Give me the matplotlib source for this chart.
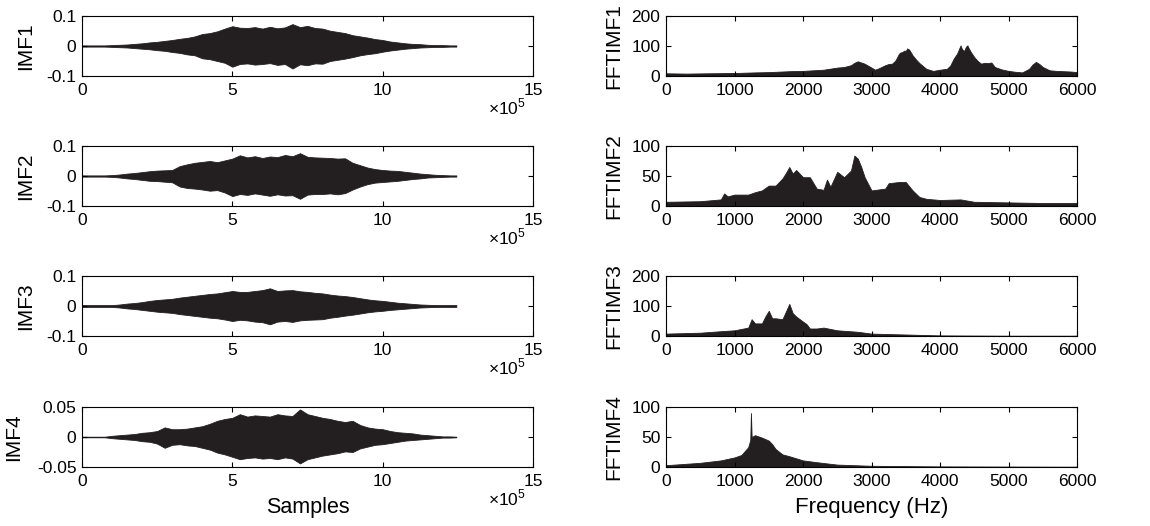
import matplotlib
matplotlib.use("Agg")
import matplotlib.pyplot as plt

plt.rcParams["font.family"] = ["Liberation Sans", "DejaVu Sans"]
plt.rcParams["mathtext.fontset"] = "custom"
plt.rcParams["mathtext.rm"] = "Liberation Sans"

# sample positions (x 10^5) where the IMF envelopes are taken
samples = [0.0, 0.25, 0.5, 0.75, 1.0, 1.25, 1.5, 1.75, 2.0, 2.25, 2.5, 2.75,
           3.0, 3.25, 3.5, 3.75, 4.0, 4.25, 4.5, 4.75, 5.0, 5.25, 5.5, 5.75,
           6.0, 6.25, 6.5, 6.75, 7.0, 7.25, 7.5, 7.75, 8.0, 8.25, 8.5, 8.75,
           9.0, 9.25, 9.5, 9.75, 10.0, 10.25, 10.5, 10.75, 11.0, 11.25, 11.5,
           11.75, 12.0, 12.25, 12.45]

imf1_hi = [0.002, 0.002, 0.002, 0.002, 0.003, 0.004, 0.005, 0.007, 0.009, 0.012,
           0.014, 0.017, 0.020, 0.024, 0.027, 0.032, 0.040, 0.043, 0.049, 0.058,
           0.066, 0.061, 0.060, 0.063, 0.058, 0.064, 0.059, 0.062, 0.073, 0.063,
           0.067, 0.060, 0.058, 0.051, 0.047, 0.043, 0.036, 0.032, 0.028, 0.023,
           0.020, 0.015, 0.012, 0.009, 0.007, 0.006, 0.004, 0.003, 0.003, 0.002, 0.002]
imf1_lo = [-0.002, -0.002, -0.002, -0.002, -0.003, -0.004, -0.005, -0.007, -0.009, -0.011,
           -0.014, -0.016, -0.020, -0.023, -0.028, -0.031, -0.041, -0.044, -0.050, -0.056,
           -0.069, -0.060, -0.058, -0.062, -0.060, -0.057, -0.063, -0.060, -0.075, -0.061,
           -0.064, -0.058, -0.059, -0.050, -0.046, -0.042, -0.037, -0.031, -0.027, -0.024,
           -0.019, -0.015, -0.012, -0.009, -0.007, -0.005, -0.004, -0.003, -0.003, -0.002, -0.002]

imf2_hi = [0.002, 0.002, 0.002, 0.002, 0.003, 0.005, 0.008, 0.010, 0.013, 0.016,
           0.018, 0.019, 0.020, 0.033, 0.039, 0.044, 0.047, 0.050, 0.046, 0.052,
           0.058, 0.069, 0.062, 0.066, 0.060, 0.065, 0.063, 0.070, 0.066, 0.076,
           0.064, 0.062, 0.061, 0.060, 0.058, 0.059, 0.044, 0.036, 0.028, 0.023,
           0.020, 0.018, 0.017, 0.014, 0.011, 0.008, 0.006, 0.004, 0.003, 0.002, 0.002]
imf2_lo = [-0.002, -0.002, -0.002, -0.002, -0.003, -0.005, -0.008, -0.010, -0.013, -0.016,
           -0.017, -0.019, -0.021, -0.035, -0.040, -0.042, -0.045, -0.049, -0.047, -0.055,
           -0.067, -0.060, -0.063, -0.058, -0.062, -0.066, -0.061, -0.065, -0.064, -0.076,
           -0.062, -0.060, -0.060, -0.058, -0.061, -0.057, -0.045, -0.035, -0.027, -0.022,
           -0.020, -0.018, -0.016, -0.013, -0.010, -0.008, -0.005, -0.004, -0.003, -0.002, -0.002]

imf3_hi = [0.003, 0.003, 0.003, 0.003, 0.003, 0.005, 0.008, 0.010, 0.013, 0.017,
           0.020, 0.022, 0.024, 0.028, 0.031, 0.034, 0.037, 0.040, 0.042, 0.046,
           0.050, 0.047, 0.047, 0.050, 0.053, 0.059, 0.050, 0.052, 0.053, 0.049,
           0.047, 0.044, 0.042, 0.038, 0.035, 0.033, 0.030, 0.026, 0.022, 0.019,
           0.017, 0.014, 0.011, 0.009, 0.007, 0.005, 0.004, 0.003, 0.003, 0.003, 0.003]
imf3_lo = [-0.003, -0.003, -0.003, -0.003, -0.003, -0.005, -0.008, -0.010, -0.013, -0.016,
           -0.019, -0.021, -0.023, -0.027, -0.030, -0.033, -0.036, -0.039, -0.041, -0.045,
           -0.050, -0.046, -0.048, -0.052, -0.054, -0.061, -0.052, -0.050, -0.053, -0.048,
           -0.046, -0.045, -0.044, -0.039, -0.036, -0.032, -0.029, -0.025, -0.021, -0.018,
           -0.016, -0.013, -0.011, -0.009, -0.007, -0.005, -0.004, -0.003, -0.003, -0.003, -0.003]

imf4_hi = [0.0005, 0.0005, 0.0005, 0.0005, 0.002, 0.003, 0.004, 0.005, 0.007, 0.008,
           0.010, 0.016, 0.013, 0.013, 0.014, 0.016, 0.018, 0.022, 0.027, 0.030,
           0.032, 0.038, 0.034, 0.036, 0.035, 0.034, 0.038, 0.036, 0.035, 0.046,
           0.038, 0.035, 0.032, 0.030, 0.027, 0.025, 0.027, 0.020, 0.016, 0.014,
           0.013, 0.010, 0.008, 0.007, 0.006, 0.004, 0.003, 0.002, 0.001, 0.001, 0.0005]
imf4_lo = [-0.0005, -0.0005, -0.0005, -0.0005, -0.002, -0.003, -0.004, -0.005, -0.007, -0.008,
           -0.011, -0.018, -0.013, -0.012, -0.014, -0.015, -0.018, -0.021, -0.026, -0.029,
           -0.033, -0.037, -0.035, -0.034, -0.036, -0.035, -0.037, -0.034, -0.036, -0.044,
           -0.037, -0.034, -0.031, -0.029, -0.027, -0.024, -0.025, -0.019, -0.016, -0.013,
           -0.012, -0.010, -0.008, -0.006, -0.005, -0.004, -0.003, -0.002, -0.001, -0.001, -0.0005]

# FFT magnitude envelopes (frequency in Hz)
fft1_f = [0, 300, 600, 1000, 1300, 1500, 1800, 2000, 2300, 2500, 2600, 2700, 2750,
          2800, 2850, 2900, 3000, 3050, 3100, 3200, 3250, 3300, 3350, 3400, 3420,
          3450, 3480, 3500, 3520, 3550, 3600, 3650, 3700, 3800, 3900, 4000, 4100,
          4150, 4200, 4250, 4300, 4320, 4350, 4380, 4400, 4420, 4450, 4500, 4550,
          4600, 4650, 4700, 4750, 4800, 4900, 5000, 5100, 5200, 5300, 5350, 5400,
          5450, 5500, 5600, 5700, 5800, 5900, 6000]
fft1_m = [9, 8, 9, 10, 12, 13, 16, 17, 21, 28, 30, 36, 44, 49, 45, 41, 28, 21, 25,
          36, 40, 41, 52, 74, 78, 80, 85, 83, 92, 88, 69, 55, 43, 24, 17, 21, 24,
          35, 58, 75, 102, 90, 83, 98, 102, 92, 80, 63, 50, 41, 44, 43, 45, 30, 22,
          17, 14, 12, 24, 38, 47, 40, 30, 19, 17, 16, 15, 13]

fft2_f = [0, 500, 800, 850, 900, 1000, 1200, 1300, 1400, 1500, 1600, 1700, 1750,
          1800, 1850, 1900, 2000, 2100, 2200, 2300, 2350, 2400, 2500, 2600, 2700,
          2750, 2800, 2850, 2900, 3000, 3200, 3250, 3400, 3500, 3600, 3700, 3800,
          4000, 4300, 4500, 5000, 5500, 6000]
fft2_m = [7, 8, 11, 21, 16, 19, 19, 23, 26, 34, 34, 46, 55, 65, 54, 60, 48, 48, 29,
          27, 44, 32, 57, 48, 59, 84, 79, 65, 48, 26, 29, 38, 40, 40, 26, 15, 12,
          10, 11, 7, 6, 5, 5]

fft3_f = [0, 500, 800, 1000, 1200, 1250, 1300, 1400, 1450, 1500, 1550, 1600, 1700,
          1800, 1850, 1900, 2000, 2050, 2100, 2200, 2300, 2500, 2800, 3000, 3500,
          4000, 5000, 6000]
fft3_m = [8, 11, 16, 19, 28, 56, 42, 42, 65, 84, 59, 59, 56, 107, 76, 65, 48, 40,
          25, 25, 28, 19, 14, 8, 5, 2, 1, 1]

fft4_f = [0, 500, 800, 1000, 1100, 1200, 1230, 1240, 1250, 1300, 1400, 1500, 1550,
          1600, 1700, 1800, 2000, 2200, 2500, 3000, 4000, 6000]
fft4_m = [3, 7, 11, 16, 20, 33, 45, 90, 50, 53, 49, 44, 38, 30, 21, 18, 11, 8, 4,
          2, 1, 0.5]

imf_names = ["IMF1", "IMF2", "IMF3", "IMF4"]
fft_names = ["FFTIMF1", "FFTIMF2", "FFTIMF3", "FFTIMF4"]
imf_env = [(imf1_lo, imf1_hi), (imf2_lo, imf2_hi), (imf3_lo, imf3_hi), (imf4_lo, imf4_hi)]
imf_lim = [0.1, 0.1, 0.1, 0.05]
imf_ticks = [["-0.1", "0", "0.1"]] * 3 + [["-0.05", "0", "0.05"]]
fft_data = [(fft1_f, fft1_m), (fft2_f, fft2_m), (fft3_f, fft3_m), (fft4_f, fft4_m)]
fft_top = [200, 100, 200, 100]

ink = "#231f20"
W, H = 1150, 526
fig = plt.figure(figsize=(W / 100, H / 100), dpi=100)

row_bottoms = [76, 206, 336, 467]   # pixel rows of the axes bottoms
ax_h = 60


def style(ax):
    ax.tick_params(direction="in", length=3.5, width=0.8, top=True, right=True,
                   labelsize=12.5, colors="black")
    ax.tick_params(axis="x", pad=5)
    ax.tick_params(axis="y", pad=4)
    for s in ax.spines.values():
        s.set_linewidth(0.8)


for i in range(4):
    yb = 1 - row_bottoms[i] / H

    # time-domain IMF
    ax = fig.add_axes([82 / W, yb, 451 / W, ax_h / H])
    lo, hi = imf_env[i]
    ax.fill_between(samples, lo, hi, color=ink, linewidth=0.6, edgecolor=ink)
    lim = imf_lim[i]
    ax.set_xlim(0, 15)
    ax.set_ylim(-lim, lim)
    ax.set_xticks([0, 5, 10, 15])
    ax.set_xticklabels(["0", "5", "10", "15"])
    ax.set_yticks([-lim, 0, lim])
    ax.set_yticklabels(imf_ticks[i])
    style(ax)
    ax.set_ylabel(imf_names[i], fontsize=15)
    ax.yaxis.set_label_coords(-0.104 if i < 3 else -0.131, 0.5)
    # exponent of the sample axis, under the tick labels
    ax.text(0.985, -0.34, r"$\times10^{5}$", transform=ax.transAxes,
            ha="right", va="top", fontsize=12.5)
    if i == 3:
        ax.set_xlabel("Samples", fontsize=15.5, labelpad=6)

    # spectrum
    ax2 = fig.add_axes([666 / W, yb, 411 / W, ax_h / H])
    f, m = fft_data[i]
    ax2.fill_between(f, 0, m, color=ink, linewidth=0.6, edgecolor=ink)
    ax2.set_xlim(0, 6000)
    ax2.set_ylim(0, fft_top[i])
    ax2.set_xticks(range(0, 6001, 1000))
    ax2.set_yticks([0, fft_top[i] // 2, fft_top[i]])
    style(ax2)
    ax2.set_ylabel(fft_names[i], fontsize=15)
    ax2.yaxis.set_label_coords(-0.105, 0.5)
    if i == 3:
        ax2.set_xlabel("Frequency (Hz)", fontsize=16, labelpad=6)

fig.savefig("out.png", dpi=100)
